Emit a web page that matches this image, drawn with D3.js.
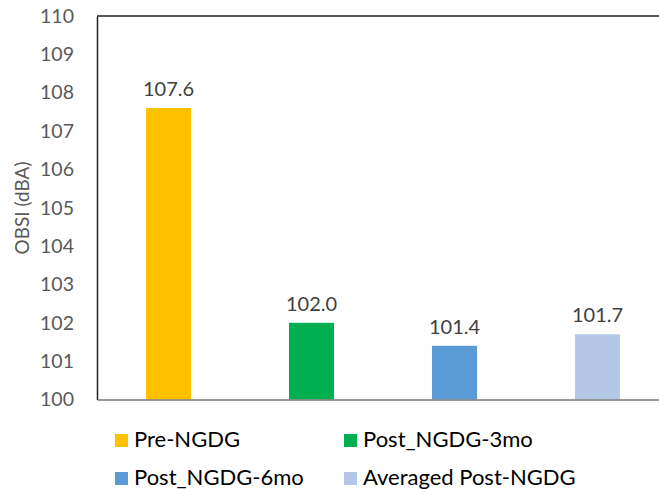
<!DOCTYPE html>
<html><head><meta charset="utf-8">
<script src="https://cdn.jsdelivr.net/npm/d3@7"></script>
<style>body{margin:0;background:#fff}svg{display:block}</style>
</head><body>
<svg id="c" width="659" height="489"></svg>
<script>
const categories = ["Pre-NGDG", "Post_NGDG-3mo", "Post_NGDG-6mo", "Averaged Post-NGDG"];
const values = [107.6, 102.0, 101.4, 101.7];
const colors = ["#FFC000", "#00B050", "#5B9BD5", "#B4C7E7"];
const yTicks = [100,101,102,103,104,105,106,107,108,109,110];
const yTitle = "OBSI (dBA)";

const font = "Lato, 'Open Sans', sans-serif";
const svg = d3.select("#c");
const pL = 97, pR = 669, pT = 16, pB = 399.5;
const x = d3.scaleBand().domain(categories).range([pL, pR]).paddingInner(0.685).paddingOuter(0.3425);
const y = d3.scaleLinear().domain([100, 110]).range([pB, pT]);

// bars
svg.selectAll("rect.bar").data(values).join("rect")
  .attr("x", (d,i)=>x(categories[i])).attr("width", x.bandwidth())
  .attr("y", d=>y(d)).attr("height", d=>y(100)-y(d))
  .attr("fill", (d,i)=>colors[i]);

// labels
svg.selectAll("text.lbl").data(values).join("text")
  .attr("x", (d,i)=>x(categories[i])+x.bandwidth()/2)
  .attr("y", d=>y(d)-12)
  .attr("text-anchor","middle").attr("font-family",font).attr("font-size",20)
  .attr("fill","#404040").text(d=>d.toFixed(1));

// y axis
const ya = svg.append("g").attr("transform",`translate(${pL},0)`)
  .call(d3.axisLeft(y).tickValues(yTicks).tickSize(0).tickPadding(23).tickFormat(d3.format("d")));
ya.select(".domain").attr("stroke","#222").attr("stroke-width",1.5);
ya.selectAll("text").attr("font-family",font).attr("font-size",19.5).attr("fill","#595959");

// top line
svg.append("line").attr("x1",pL).attr("x2",pR).attr("y1",pT).attr("y2",pT)
  .attr("stroke","#222").attr("stroke-width",1.5);

// x axis
const xa = svg.append("g").attr("transform",`translate(0,${pB})`)
  .call(d3.axisBottom(x).tickSize(0).tickFormat(""));
xa.select(".domain").attr("stroke","#777").attr("stroke-width",1.5);

// y title
svg.append("text").attr("transform","translate(29,208) rotate(-90)")
  .attr("text-anchor","middle").attr("font-family",font).attr("font-size",19)
  .attr("fill","#595959").text(yTitle);

// legend
const legPos = [[115,434],[344,434],[115,472],[344,472]];
const lg = svg.selectAll("g.leg").data(categories).join("g")
  .attr("transform",(d,i)=>`translate(${legPos[i][0]},${legPos[i][1]})`);
lg.append("rect").attr("width",13).attr("height",13).attr("fill",(d,i)=>colors[i]);
lg.append("text").attr("x",19).attr("y",13).attr("font-family",font).attr("font-size",22)
  .attr("fill","#000").text(d=>d);
</script>
</body></html>
